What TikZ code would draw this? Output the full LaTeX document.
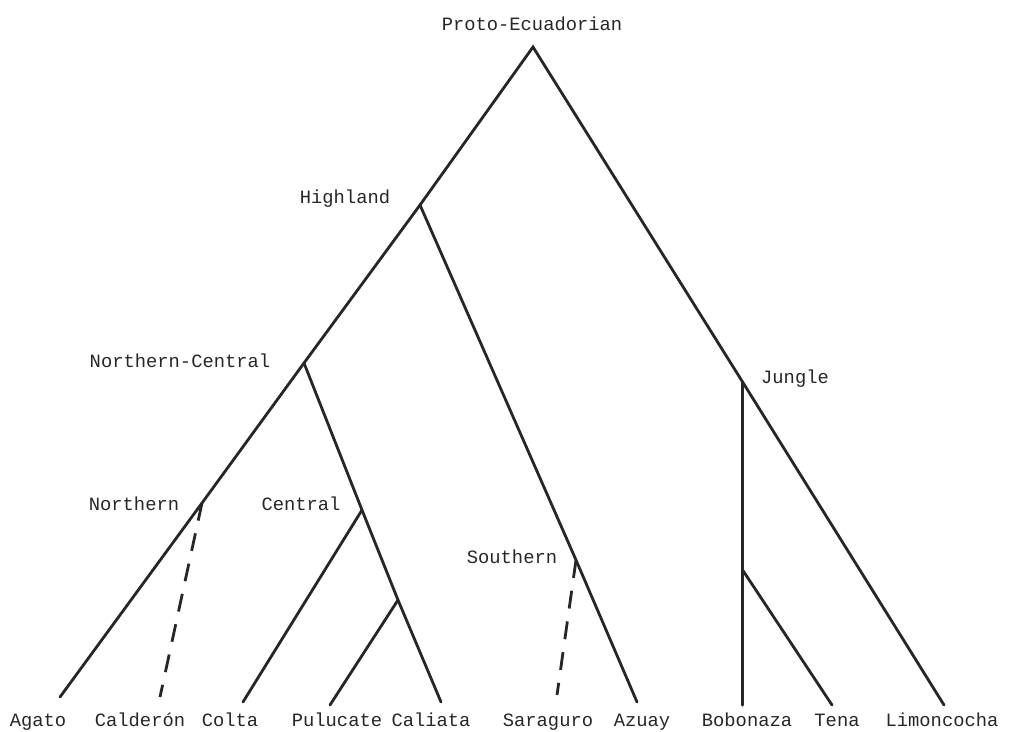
\documentclass[tikz,border=0pt]{standalone}
\usepackage{fontspec}
\setmonofont{Liberation Mono}
\begin{document}
\begin{tikzpicture}[x=1pt,y=-1pt,
  br/.style={line width=2.8pt,draw=black!85,line cap=round},
  dsh/.style={br,line cap=butt,dash pattern=on 18pt off 13pt},
  lab/.style={font=\fontsize{18.8}{22}\selectfont\ttfamily,text=black!85,inner sep=0pt,anchor=base}]
\useasboundingbox (0,0) rectangle (1009,731);
% junctions
\coordinate (A) at (533,47);
\coordinate (H) at (420,205);
\coordinate (NC) at (304,363);
\coordinate (N) at (202,503);
\coordinate (C) at (362,510);
\coordinate (P) at (398,600);
\coordinate (S) at (576,560);
\coordinate (J) at (742.6,382);
\coordinate (BT) at (742.6,570);
% leaves
\coordinate (agato) at (60,697);
\coordinate (calderon) at (160,697);
\coordinate (colta) at (243,702);
\coordinate (pulucate) at (330,705);
\coordinate (caliata) at (441,702);
\coordinate (saraguro) at (557,695);
\coordinate (azuay) at (637,702);
\coordinate (bobonaza) at (742.6,705);
\coordinate (tena) at (832,705);
\coordinate (limon) at (944,705);
% branches
\draw[br] (agato) -- (N) -- (NC) -- (H) -- (A) -- (J) -- (limon);
\draw[br] (H) -- (S) -- (azuay);
\draw[br] (NC) -- (C) -- (P) -- (caliata);
\draw[br] (C) -- (colta);
\draw[br] (P) -- (pulucate);
\draw[br,line width=3.2pt] (J) -- (BT) -- (bobonaza);
\draw[br] (BT) -- (tena);
\draw[dsh] (N) -- (calderon);
\draw[dsh] (S) -- (saraguro);
% internal labels
\node[lab] (lproto) at (532,30) {Proto-Ecuadorian};
\node[lab] (lhigh) at (345,203) {Highland};
\node[lab] (lnc) at (180,367) {Northern-Central};
\node[lab] (lnorth) at (134,510) {Northern};
\node[lab] (lcent) at (301,510) {Central};
\node[lab] (lsouth) at (512,563) {Southern};
\node[lab] (ljung) at (795,383) {Jungle};
% leaf labels
\node[lab] (tagato) at (38,726) {Agato};
\node[lab] (tcald) at (140,726) {Calderón};
\node[lab] (tcolta) at (230,726) {Colta};
\node[lab] (tpulu) at (337,726) {Pulucate};
\node[lab] (tcali) at (431,726) {Caliata};
\node[lab] (tsara) at (548,726) {Saraguro};
\node[lab] (tazu) at (642,726) {Azuay};
\node[lab] (tbobo) at (747,726) {Bobonaza};
\node[lab] (ttena) at (837,726) {Tena};
\node[lab] (tlimon) at (942,726) {Limoncocha};
\end{tikzpicture}
\end{document}
